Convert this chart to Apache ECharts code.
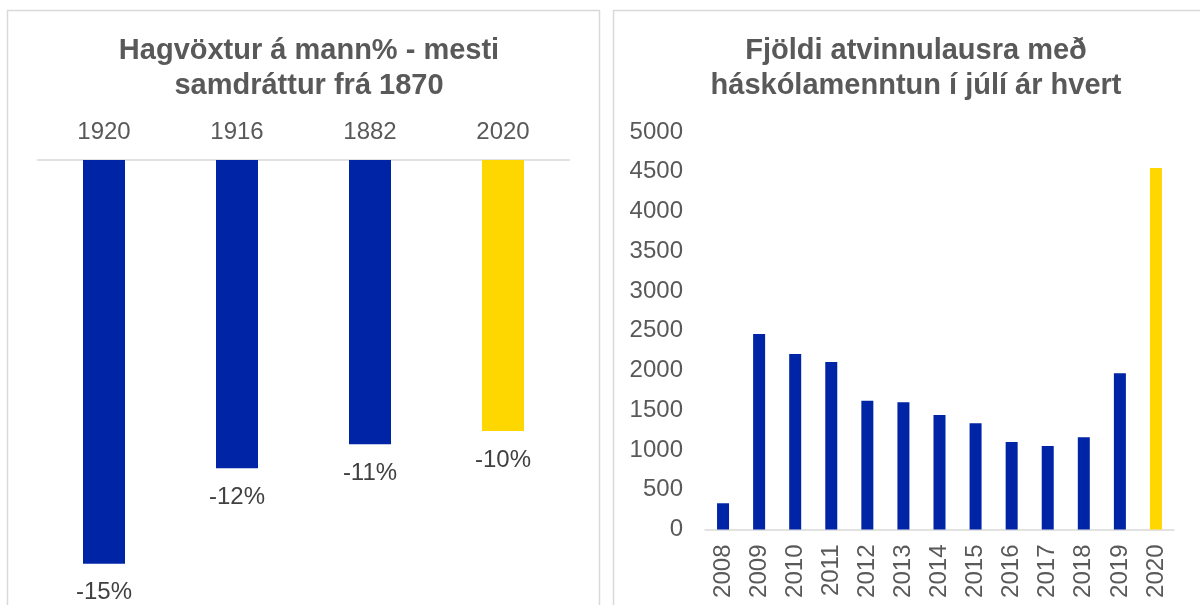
<!DOCTYPE html>
<html>
<head>
<meta charset="utf-8">
<script src="https://cdn.jsdelivr.net/npm/echarts@6/dist/echarts.min.js"></script>
<style>
html,body{margin:0;padding:0;background:#fff;}
#c{width:1200px;height:605px;}
</style>
</head>
<body>
<div id="c"></div>
<script>
// Left panel data
const leftTitle = 'Hagvöxtur á mann% - mesti\nsamdráttur frá 1870';
const leftCategories = ['1920', '1916', '1882', '2020'];
const leftValues = [-15.2, -11.6, -10.7, -10.2];

// Right panel data
const rightTitle = 'Fjöldi atvinnulausra með\nháskólamenntun í júlí ár hvert';
const rightCategories = ['2008','2009','2010','2011','2012','2013','2014','2015','2016','2017','2018','2019','2020'];
const rightValues = [330, 2459, 2208, 2107, 1620, 1600, 1440, 1336, 1100, 1050, 1160, 1965, 4547];

const BLUE = '#0024a6';
const YELLOW = '#ffd700';
const TEXT = '#595959';
const FONT = '"Liberation Sans", Arial, sans-serif';

function colorFor(arr) {
  return function (p) { return p.dataIndex === arr.length - 1 ? YELLOW : BLUE; };
}

const chart = echarts.init(document.getElementById('c'), null, { renderer: 'canvas' });
chart.setOption({
  backgroundColor: '#fff',
  animation: false,
  textStyle: { fontFamily: FONT },
  graphic: [
    { type: 'rect', shape: { x: 7.5, y: 10.5, width: 592, height: 610 },
      style: { fill: 'none', stroke: '#d9d9d9', lineWidth: 1.5 }, silent: true },
    { type: 'rect', shape: { x: 613.5, y: 10.5, width: 610, height: 610 },
      style: { fill: 'none', stroke: '#d9d9d9', lineWidth: 1.5 }, silent: true }
  ],
  title: [
    { text: leftTitle, left: 304, top: 28, textAlign: 'center',
      textStyle: { fontFamily: FONT, fontSize: 29, fontWeight: 'bold', color: TEXT, lineHeight: 35 } },
    { text: rightTitle, left: 911, top: 28, textAlign: 'center',
      textStyle: { fontFamily: FONT, fontSize: 29, fontWeight: 'bold', color: TEXT, lineHeight: 35 } }
  ],
  grid: [
    { left: 37.5, width: 532, top: 160, height: 425 },
    { left: 705, width: 469, top: 132, height: 397.5 }
  ],
  xAxis: [
    { type: 'category', gridIndex: 0, position: 'top', data: leftCategories,
      axisLine: { show: true, lineStyle: { color: '#d9d9d9', width: 1.5 } },
      axisTick: { show: false },
      axisLabel: { fontFamily: FONT, fontSize: 24, color: TEXT, margin: 16 } },
    { type: 'category', gridIndex: 1, position: 'bottom', data: rightCategories,
      axisLine: { show: true, lineStyle: { color: '#d9d9d9', width: 1.5 } },
      axisTick: { show: false },
      axisLabel: { fontFamily: FONT, fontSize: 24, color: TEXT, margin: 15, rotate: 90, interval: 0 } }
  ],
  yAxis: [
    { type: 'value', gridIndex: 0, min: -16, max: 0, show: false },
    { type: 'value', gridIndex: 1, min: 0, max: 5000, interval: 500,
      axisLine: { show: false }, axisTick: { show: false }, splitLine: { show: false },
      axisLabel: { fontFamily: FONT, fontSize: 24, color: TEXT, margin: 22,
        formatter: function (v) { return String(v); } } }
  ],
  series: [
    { type: 'bar', xAxisIndex: 0, yAxisIndex: 0, data: leftValues, barWidth: 42,
      itemStyle: { color: colorFor(leftValues) },
      label: { show: true, position: 'bottom', distance: 17,
        fontFamily: FONT, fontSize: 24, color: '#404040',
        formatter: function (p) { return Math.round(p.value) + '%'; } } },
    { type: 'bar', xAxisIndex: 1, yAxisIndex: 1, data: rightValues, barWidth: 12,
      itemStyle: { color: colorFor(rightValues) } }
  ]
});
</script>
</body>
</html>
